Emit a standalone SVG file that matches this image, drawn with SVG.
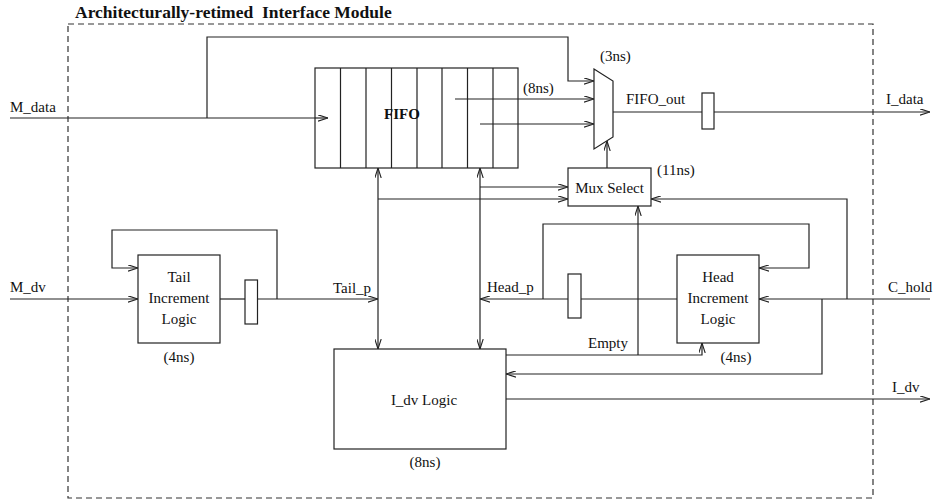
<svg xmlns="http://www.w3.org/2000/svg" width="935" height="502" viewBox="0 0 935 502">
<defs>
<marker id="arr" viewBox="0 0 10 7" refX="10" refY="3.5" markerWidth="10" markerHeight="7" markerUnits="userSpaceOnUse" orient="auto-start-reverse">
<path d="M0,0.3 L10,3.5 L0,6.7" fill="none" stroke="#222" stroke-width="1.1"/>
</marker>
<style>
.t{font-family:"Liberation Serif","Times New Roman",serif;font-size:15px;fill:#111}
.b{font-weight:bold}
.m{text-anchor:middle}
.box{fill:#fff;stroke:#222;stroke-width:1.2}
.w{fill:none;stroke:#222;stroke-width:1.2}
.a{marker-end:url(#arr)}
.aa{marker-start:url(#arr);marker-end:url(#arr)}
</style>
</defs>
<rect width="935" height="502" fill="#fff"/>
<g id="module">
<rect x="68" y="24" width="805" height="474" fill="none" stroke="#333" stroke-width="1.2" stroke-dasharray="6,4"/>
<text class="t b" x="75" y="18" style="font-size:17.5px">Architecturally-retimed&#160; Interface Module</text>
</g>
<g id="connectors">
<path class="w a" d="M10,118 H328"/>
<path class="w a" d="M207,118 V37 H568 V81 H594"/>
<path class="w a" d="M455,99 H594"/>
<path class="w a" d="M480,124 H594"/>
<path class="w" d="M613,112 H702"/>
<path class="w a" d="M714,112 H930"/>
<path class="w a" d="M607,168 V141"/>
<path class="w aa" d="M378,168 V349"/>
<path class="w aa" d="M480,168 V349"/>
<path class="w a" d="M480,187 H568"/>
<path class="w a" d="M378,199 H568"/>
<path class="w a" d="M10,299 H138"/>
<path class="w" d="M220,299 H245"/>
<path class="w a" d="M258,299 H378"/>
<path class="w a" d="M277,299 V230 H112 V268 H138"/>
<path class="w a" d="M677,299 H480"/>
<path class="w a" d="M543,299 V224 H809 V268 H759"/>
<path class="w a" d="M930,299 H759"/>
<path class="w a" d="M847,299 V199 H651"/>
<path class="w a" d="M822,299 V374 H506"/>
<path class="w a" d="M506,355 H702 V343"/>
<path class="w a" d="M638,355 V206"/>
<path class="w a" d="M506,399 H930"/>
</g>
<g id="fifo">
<rect class="box" x="315" y="68" width="203" height="100"/>
<path class="w" d="M340.5,68V168M366,68V168M391.5,68V168M417,68V168M442,68V168M467.5,68V168M493,68V168"/>
<path class="w" d="M455,99 H518 M480,124 H518"/>
<path class="w a" d="M315,118 H328"/>
<text class="t b m" x="402" y="119">FIFO</text>
<text class="t" x="523" y="93">(8ns)</text>
</g>
<g id="mux">
<path class="box" d="M594,69 L613,81 L613,137 L594,149 Z"/>
<text class="t" x="600" y="61">(3ns)</text>
</g>
<g id="fifo-out-reg">
<rect class="box" x="702" y="93" width="12" height="36"/>
<text class="t" x="626" y="104">FIFO_out</text>
</g>
<g id="mux-select">
<rect class="box" x="568" y="168" width="83" height="38"/>
<text class="t m" x="609.5" y="193">Mux Select</text>
<text class="t" x="657" y="175">(11ns)</text>
</g>
<g id="tail-inc">
<rect class="box" x="138" y="255" width="82" height="88"/>
<text class="t m" x="179" y="282">Tail</text>
<text class="t m" x="179" y="303">Increment</text>
<text class="t m" x="179" y="324">Logic</text>
<text class="t m" x="179" y="362">(4ns)</text>
</g>
<g id="tail-reg">
<rect class="box" x="245" y="280" width="12.5" height="44"/>
</g>
<g id="head-reg">
<rect class="box" x="568" y="274" width="13" height="44"/>
</g>
<g id="head-inc">
<rect class="box" x="677" y="255" width="82" height="88"/>
<text class="t m" x="718" y="282">Head</text>
<text class="t m" x="718" y="303">Increment</text>
<text class="t m" x="718" y="324">Logic</text>
<text class="t m" x="736" y="362">(4ns)</text>
</g>
<g id="idv-logic">
<rect class="box" x="334" y="349" width="172" height="100"/>
<text class="t m" x="424" y="405">I_dv Logic</text>
<text class="t m" x="425" y="467">(8ns)</text>
</g>
<g id="labels">
<text class="t" x="10" y="112">M_data</text>
<text class="t" x="886" y="104">I_data</text>
<text class="t" x="10" y="292">M_dv</text>
<text class="t" x="333" y="293">Tail_p</text>
<text class="t" x="487" y="292">Head_p</text>
<text class="t" x="888" y="292">C_hold</text>
<text class="t" x="588" y="348">Empty</text>
<text class="t" x="892" y="392">I_dv</text>
</g>
</svg>
